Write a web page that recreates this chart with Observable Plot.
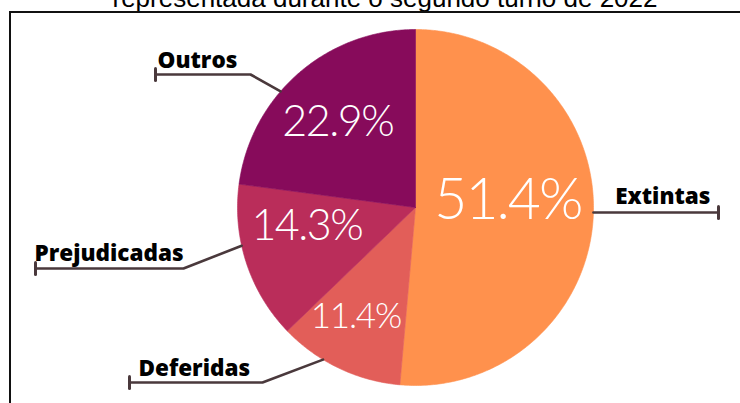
<!DOCTYPE html>
<html><head><meta charset="utf-8">
<script src="https://cdn.jsdelivr.net/npm/d3@7"></script>
<script src="https://cdn.jsdelivr.net/npm/@observablehq/plot@0.6"></script>
<style>
html,body{margin:0;padding:0;background:#fff;overflow:hidden;}
#wrap{position:relative;width:740px;height:403px;overflow:hidden;}
#title{position:absolute;left:30px;top:-15px;width:710px;text-align:center;font-family:"Liberation Sans",Arial,sans-serif;font-size:26px;line-height:26px;color:#000;white-space:nowrap;}
#frame{position:absolute;left:9px;top:11px;width:800px;height:500px;border-left:2px solid #111;border-top:2px solid #111;}
#chart{position:absolute;left:0;top:0;}
g[font-family="Lato"] text{letter-spacing:-0.035em;}
</style></head><body>
<div id="wrap"><div id="title">representada durante o segundo turno de 2022</div><div id="frame"></div><div id="chart"></div></div>
<script>
// ---- data ----
const categories = ["Extintas", "Deferidas", "Prejudicadas", "Outros"];
const shares = [51.4, 11.4, 14.3, 22.9];
const pctLabels = ["51.4%", "11.4%", "14.3%", "22.9%"];

// ---- styles / layout ----
const colors = ["#FF914D", "#E25E59", "#BA2D5A", "#870B5B"];
const W = 740, H = 403, CX = 415, CY = 207, R = 178;
// percentage label placement (angle deg clockwise from top, radius fraction, font size)
const pctLayout = {
  Extintas: [86, 0.52, 57],
  Deferidas: [208.6, 0.70, 35],
  Prejudicadas: [260, 0.62, 43],
  Outros: [317.8, 0.65, 43]
};
// callout layout: anchor angle on rim, elbow, end point, label position, anchor
const callouts = {
  Outros: {a: 310.7, elbow: [250, 74], end: [155, 74], tx: 157, ty: 67, anchor: "start"},
  Prejudicadas: {a: 257.6, elbow: [183, 268], end: [35, 268], tx: 34, ty: 260, anchor: "start"},
  Deferidas: {a: 211.3, elbow: [262, 382], end: [129, 382], tx: 138, ty: 375, anchor: "start"},
  Extintas: {a: 91.6, elbow: null, end: [718, 212], tx: 710, ty: 203, anchor: "end"}
};

const rad = (deg) => deg * Math.PI / 180;
const pt = (a, r) => [CX + r * Math.sin(a), CY - r * Math.cos(a)];

const arcs = d3.pie().sort(null).value(d => d.value)(
  categories.map((c, i) => ({category: c, value: shares[i], label: pctLabels[i]}))
);

const slicePts = [];
for (const s of arcs) {
  const n = Math.max(8, Math.ceil((s.endAngle - s.startAngle) / 0.01));
  slicePts.push({category: s.data.category, x: CX, y: CY});
  for (let k = 0; k <= n; k++) {
    const a = s.startAngle + (s.endAngle - s.startAngle) * k / n;
    const [x, y] = pt(a, R);
    slicePts.push({category: s.data.category, x, y});
  }
  slicePts.push({category: s.data.category, x: CX, y: CY});
}

const pctData = arcs.map(s => {
  const [deg, f, fs] = pctLayout[s.data.category];
  const [x, y] = pt(rad(deg), R * f);
  return {x, y, text: s.data.label, fs};
});

const leaderPts = [], tickPts = [], nameData = [];
for (const c of categories) {
  const co = callouts[c];
  const [sx, sy] = pt(rad(co.a), R);
  leaderPts.push({k: c, x: sx, y: sy});
  if (co.elbow) leaderPts.push({k: c, x: co.elbow[0], y: co.elbow[1]});
  leaderPts.push({k: c, x: co.end[0], y: co.end[1]});
  tickPts.push({k: c, x: co.end[0], y1: co.end[1] - 6, y2: co.end[1] + 6});
  nameData.push({x: co.tx, y: co.ty, text: c, anchor: co.anchor});
}

const chart = Plot.plot({
  width: W, height: H, margin: 0,
  style: {background: "transparent", overflow: "visible"},
  x: {domain: [0, W], range: [0, W], axis: null},
  y: {domain: [0, H], range: [0, H], axis: null},
  color: {domain: categories, range: colors},
  marks: [
    Plot.line(slicePts, {x: "x", y: "y", z: "category", fill: "category", stroke: "category", strokeWidth: 0.6, curve: "linear"}),
    Plot.line(leaderPts, {x: "x", y: "y", z: "k", stroke: "#4A393C", strokeWidth: 2.6, curve: "linear", strokeLinejoin: "miter"}),
    Plot.link(tickPts, {x1: "x", x2: "x", y1: "y1", y2: "y2", stroke: "#4A393C", strokeWidth: 3, strokeLinecap: "round"}),
    Plot.text(pctData, {x: "x", y: "y", text: "text", fontSize: "fs", fill: "white", fontFamily: "Lato", fontWeight: 300, lineAnchor: "middle", textAnchor: "middle"}),
    Plot.text(nameData.filter(d => d.anchor === "start"), {x: "x", y: "y", text: "text", fill: "#000", fontFamily: "Open Sans", fontWeight: 800, fontSize: 22.5, textAnchor: "start", lineAnchor: "bottom"}),
    Plot.text(nameData.filter(d => d.anchor === "end"), {x: "x", y: "y", text: "text", fill: "#000", fontFamily: "Open Sans", fontWeight: 800, fontSize: 22.5, textAnchor: "end", lineAnchor: "bottom"})
  ]
});
document.getElementById("chart").appendChild(chart);
</script>
</body></html>
